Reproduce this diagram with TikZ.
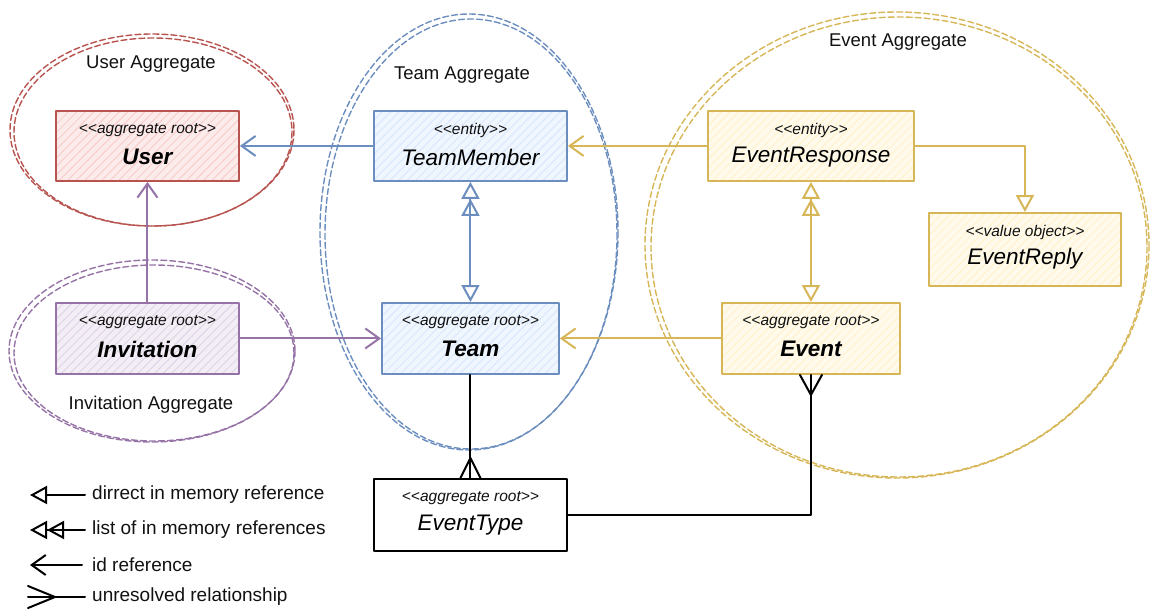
\documentclass[tikz,border=0pt]{standalone}
\usepackage{fontspec}
\setmainfont{Liberation Sans}
\usetikzlibrary{arrows.meta,patterns.meta,calc}
\definecolor{redS}{HTML}{B85450}\definecolor{redF}{HTML}{F8CECC}
\definecolor{purS}{HTML}{9673A6}\definecolor{purF}{HTML}{E1D5E7}
\definecolor{bluS}{HTML}{6C8EBF}\definecolor{bluF}{HTML}{DAE8FC}
\definecolor{yelS}{HTML}{D6B656}\definecolor{yelF}{HTML}{FFF2CC}
\definecolor{ink}{HTML}{111111}
\newcommand\LL{<\kern0pt<}
\newcommand\GG{>\kern0pt>}
\tikzset{
  box/.style={draw=#1S, line width=1.9pt,
    preaction={fill=#1F!40},
    preaction={pattern={Lines[angle=45,distance=6pt,line width=1pt]}, pattern color=#1F}},
  blkbox/.style={draw=black, line width=1.9pt, fill=white},
  stereo/.style={font=\fontsize{15.5}{18}\selectfont\itshape, inner sep=0pt, text=ink},
  titleB/.style={font=\fontsize{22.5}{26}\selectfont\bfseries\itshape, inner sep=0pt, text=black},
  titleI/.style={font=\fontsize{22.5}{26}\selectfont\itshape, inner sep=0pt, text=black},
  lab/.style={font=\fontsize{18.5}{22}\selectfont, inner sep=0pt, text=ink},
  leg/.style={font=\fontsize{19}{22}\selectfont, inner sep=0pt, text=ink, anchor=west},
  agg/.style={draw=#1, line width=1.4pt, dash pattern=on 6pt off 3pt},
  conn/.style={line width=2pt},
  RefTip/.tip={Triangle[open,length=17pt,width=18pt]},
  IdTip/.tip={Straight Barb[length=14pt,width=20pt]},
}
\newcommand\umlbox[9]{%
  \node[#6, minimum width=#4pt, minimum height=#5pt, anchor=north west, inner sep=0pt] (#1) at (#2,#3) {};
  \node[stereo] (#1-s) at ($(#1.north)+(0,20)$) {#7};
  \node[#8] (#1-t) at ($(#1.north)+(0,47)$) {#9};
}
\begin{document}
\begin{tikzpicture}[x=1pt,y=-1pt,line join=round,line cap=round]
\useasboundingbox (0,0) rectangle (1153,613);
% aggregate boundaries
\draw[agg=redS] (152,130) ellipse [x radius=142, y radius=96];
\draw[agg=redS] (153,132) ellipse [x radius=139, y radius=94];
\draw[agg=purS] (152,351) ellipse [x radius=143, y radius=91];
\draw[agg=purS] (154,353) ellipse [x radius=140, y radius=88];
\draw[agg=bluS] (469,232) ellipse [x radius=149, y radius=218];
\draw[agg=bluS] (471,234) ellipse [x radius=146, y radius=215];
\draw[agg=yelS] (897,245) ellipse [x radius=252, y radius=233];
\draw[agg=yelS] (899,247) ellipse [x radius=248, y radius=230];
\node[lab] (userAgg) at (151,64) {User Aggregate};
\node[lab] (invAgg) at (151,405) {Invitation Aggregate};
\node[lab] (teamAgg) at (462,75) {Team Aggregate};
\node[lab] (eventAgg) at (898,42) {Event Aggregate};
% classes
\umlbox{user}{55}{110}{183}{70}{box=red}{\LL aggregate root\GG}{titleB}{User}
\umlbox{invitation}{55}{302}{183}{71}{box=pur}{\LL aggregate root\GG}{titleB}{Invitation}
\umlbox{teammember}{373}{110}{193}{70}{box=blu}{\LL entity\GG}{titleI}{TeamMember}
\umlbox{team}{381}{302}{177}{71}{box=blu}{\LL aggregate root\GG}{titleB}{Team}
\umlbox{eventresponse}{707}{110}{206}{70}{box=yel}{\LL entity\GG}{titleI}{EventResponse}
\umlbox{event}{721}{302}{178}{71}{box=yel}{\LL aggregate root\GG}{titleB}{Event}
\umlbox{eventreply}{928}{212}{192}{73}{box=yel}{\LL value object\GG}{titleI}{EventReply}
\umlbox{eventtype}{373}{478}{193}{72}{blkbox}{\LL aggregate root\GG}{titleI}{EventType}
% connectors
\draw[conn, bluS, -IdTip] (teammember.west) -- (user.east);
\draw[conn, purS, -IdTip] (invitation.north) -- (user.south);
\draw[conn, purS, -IdTip] (invitation.east) -- (team.west);
\draw[conn, bluS, {RefTip[]RefTip[]}-{RefTip[]}] (teammember.south) -- (team.north);
\draw[conn, yelS, -IdTip] (eventresponse.west) -- (teammember.east);
\draw[conn, yelS, -IdTip] (event.west) -- (team.east);
\draw[conn, yelS, -RefTip] (eventresponse.east) -| (eventreply.north);
\draw[conn, yelS, {RefTip[]RefTip[]}-{RefTip[]}] (eventresponse.south) -- (event.north);
\draw[conn] (team.south) -- (eventtype.north);
\draw[conn] ($(eventtype.north)+(-10,0)$) -- ($(eventtype.north)+(0,-20)$) -- ($(eventtype.north)+(10,0)$);
\draw[conn] (eventtype.east) -| (event.south);
\draw[conn] ($(event.south)+(-11,0)$) -- ($(event.south)+(0,20)$) -- ($(event.south)+(11,0)$);
% legend
\coordinate (l1a) at (85,495); \coordinate (l1b) at (30,495);
\draw[conn, -RefTip] (l1a) -- (l1b);
\node[leg] (l1t) at (92,495) {dirrect in memory reference};
\coordinate (l2a) at (85,530); \coordinate (l2b) at (30,530);
\draw[conn, -{RefTip[]RefTip[]}] (l2a) -- (l2b);
\node[leg] (l2t) at (92,530) {list of in memory references};
\coordinate (l3a) at (82,565); \coordinate (l3b) at (30,565);
\draw[conn, -IdTip] (l3a) -- (l3b);
\node[leg] (l3t) at (92,565) {id reference};
\coordinate (l4a) at (85,597); \coordinate (l4b) at (28,597);
\draw[conn] (l4a) -- (l4b);
\draw[conn] ($(l4b)+(0,-11)$) -- ($(l4b)+(27,0)$) -- ($(l4b)+(0,11)$);
\node[leg] (l4t) at (92,597) {unresolved relationship};
\end{tikzpicture}
\end{document}
